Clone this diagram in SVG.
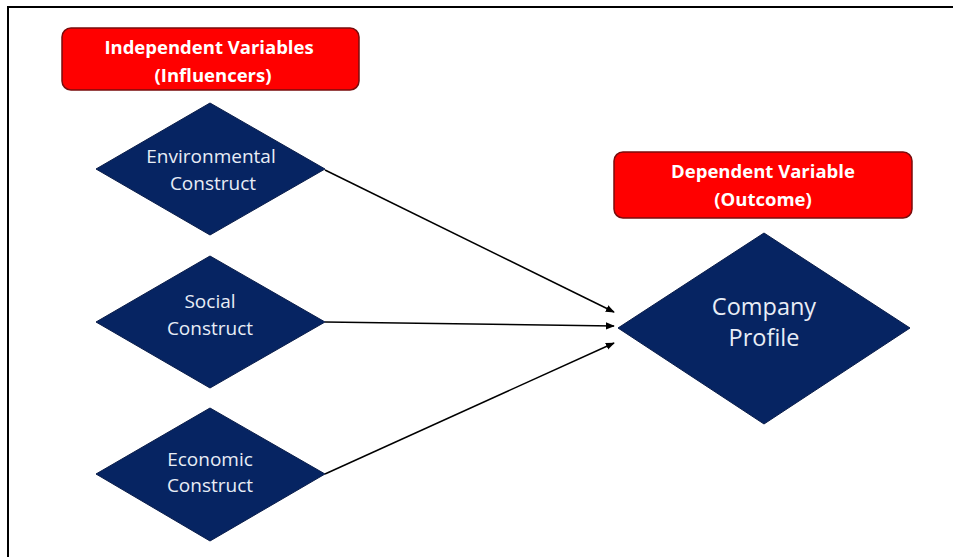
<svg xmlns="http://www.w3.org/2000/svg" width="953" height="557" viewBox="0 0 953 557">
  <defs>
    <style>
      .hdr { fill: #ff0000; stroke: #7a0c0c; stroke-width: 1.5; }
      .hdr-t { font-family: "Open Sans", "Liberation Sans", sans-serif; font-weight: bold; font-size: 18.5px; fill: #ffffff; text-anchor: middle; }
      .dia { fill: #062462; stroke: #0a1d4a; stroke-width: 1; }
      .dia-t { font-family: "Open Sans", "Liberation Sans", sans-serif; font-size: 19px; fill: #e8edf6; text-anchor: middle; }
      .dia-big { font-size: 23.5px; }
      .conn { stroke: #000000; stroke-width: 1.5; fill: none; marker-end: url(#arrow); }
    </style>
    <marker id="arrow" viewBox="0 0 10 10" refX="9" refY="5" markerWidth="6" markerHeight="6" orient="auto" markerUnits="strokeWidth">
      <path d="M0,1 L10,5 L0,9 z" fill="#000000"/>
    </marker>
  </defs>

  <rect x="0" y="0" width="953" height="557" fill="#ffffff"/>
  <!-- frame -->
  <path d="M8,557 L8,7 L953,7" fill="none" stroke="#000000" stroke-width="2"/>

  <g id="connectors">
    <line class="conn" x1="325" y1="170" x2="614" y2="312"/>
    <line class="conn" x1="325" y1="322" x2="614" y2="326"/>
    <line class="conn" x1="325" y1="474" x2="614" y2="343"/>
  </g>

  <g id="independent-header">
    <rect class="hdr" x="62" y="28" width="297" height="62" rx="9"/>
    <text class="hdr-t" x="209" y="54">Independent Variables</text>
    <text class="hdr-t" x="213" y="82">(Influencers)</text>
  </g>

  <g id="dependent-header">
    <rect class="hdr" x="614" y="152" width="298" height="66" rx="9"/>
    <text class="hdr-t" x="763" y="178">Dependent Variable</text>
    <text class="hdr-t" x="763" y="206">(Outcome)</text>
  </g>

  <g id="environmental">
    <polygon class="dia" points="210,103 325,169 210,235 96,169"/>
    <text class="dia-t" x="211" y="163">Environmental</text>
    <text class="dia-t" x="213" y="190">Construct</text>
  </g>

  <g id="social">
    <polygon class="dia" points="210,256 325,322 210,388 96,322"/>
    <text class="dia-t" x="210" y="308">Social</text>
    <text class="dia-t" x="210" y="335">Construct</text>
  </g>

  <g id="economic">
    <polygon class="dia" points="210,408 325,474 210,541 96,474"/>
    <text class="dia-t" x="210" y="466">Economic</text>
    <text class="dia-t" x="210" y="492">Construct</text>
  </g>

  <g id="company-profile">
    <polygon class="dia" points="764,233 910,328 764,424 618,328"/>
    <text class="dia-t dia-big" x="764" y="315">Company</text>
    <text class="dia-t dia-big" x="764" y="346">Profile</text>
  </g>
</svg>
